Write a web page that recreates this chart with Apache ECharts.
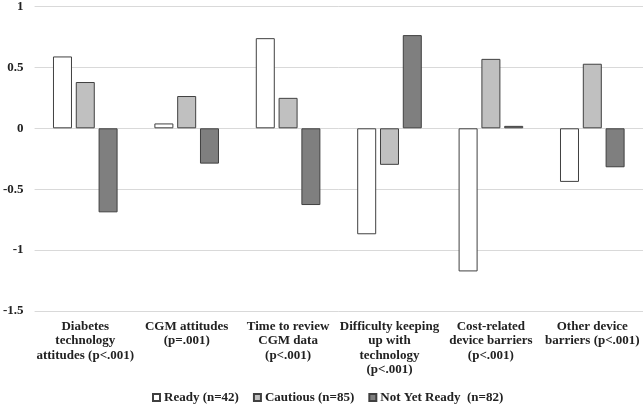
<!DOCTYPE html>
<html><head><meta charset="utf-8">
<script src="https://cdn.jsdelivr.net/npm/echarts@6/dist/echarts.min.js"></script>
<style>html,body{margin:0;padding:0;background:#fff}#c{width:644px;height:406px}</style>
</head><body><div id="c"></div>
<script>
var categories = ["Diabetes\ntechnology\nattitudes (p<.001)", "CGM attitudes\n(p=.001)", "Time to review\nCGM data\n(p<.001)", "Difficulty keeping\nup with\ntechnology\n(p<.001)", "Cost-related\ndevice barriers\n(p<.001)", "Other device\nbarriers (p<.001)"];
var seriesNames = ["Ready (n=42)", "Cautious (n=85)", "Not Yet Ready  (n=82)"];
var ready = [0.59, 0.04, 0.74, -0.87, -1.175, -0.44];
var cautious = [0.38, 0.265, 0.25, -0.30, 0.57, 0.53];
var notYetReady = [-0.69, -0.29, -0.63, 0.765, 0.02, -0.32];
var yTicks = {min: -1.5, max: 1, interval: 0.5};

var font = "'Liberation Serif','Times New Roman',serif";
var colors = ['#ffffff', '#c0c0c0', '#7f7f7f'];
var values = [ready, cautious, notYetReady];
var chart = echarts.init(document.getElementById('c'));
chart.setOption({
  animation: false,
  grid: {left: 32, right: 1, top: 6, bottom: 95, containLabel: false},
  legend: {
    top: 391, left: 152, itemWidth: 7, itemHeight: 7, itemGap: 14,
    icon: 'rect', padding: 0,
    textStyle: {fontFamily: font, fontWeight: 'bold', fontSize: 13, color: '#222', padding: [0, 0, 0, -1]},
    data: seriesNames
  },
  xAxis: {
    type: 'category', data: categories,
    axisLine: {show: false}, axisTick: {show: false},
    axisLabel: {interval: 0, fontFamily: font, fontWeight: 'bold', fontSize: 13, color: '#222', lineHeight: 14.5, margin: 8}
  },
  yAxis: {
    type: 'value', min: yTicks.min, max: yTicks.max, interval: yTicks.interval,
    axisLine: {show: false}, axisTick: {show: false},
    splitLine: {lineStyle: {color: '#d9d9d9', width: 1}},
    axisLabel: {fontFamily: font, fontWeight: 'bold', fontSize: 13, color: '#222', margin: 11}
  },
  series: seriesNames.map(function (n, i) {
    return {
      name: n, type: 'bar', data: values[i], barWidth: 19, barGap: '20%',
      itemStyle: {color: colors[i], borderColor: '#404040', borderWidth: 1}
    };
  })
});
</script></body></html>
